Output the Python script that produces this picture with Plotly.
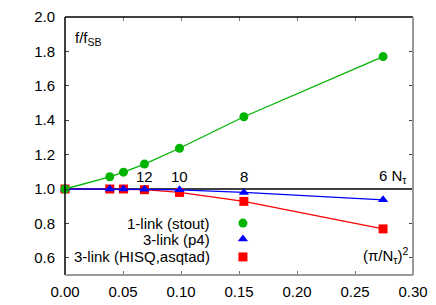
import plotly.graph_objects as go

# x = (pi/N_tau)^2 for N_tau = inf, 16, 14, 12, 10, 8, 6
x_vals = [0.0, 0.0386, 0.0504, 0.0685, 0.0987, 0.1542, 0.2742]
stout = [1.0, 1.071, 1.098, 1.145, 1.237, 1.42, 1.77]
p4 = [1.0, 1.0, 1.0, 0.998, 0.995, 0.98, 0.937]
hisq = [1.0, 1.0, 1.0, 0.996, 0.98, 0.928, 0.768]

series_names = ["1-link (stout)", "3-link (p4)", "3-link (HISQ,asqtad)"]
series_colors = ["#00b400", "#0000ff", "#ff0000"]
series_symbols = ["circle", "triangle-up", "square"]
series_sizes = [9, 9, 9]

nt_labels = ["12", "10", "8", "6 N<sub>τ</sub>"]
nt_x = [0.0685, 0.0987, 0.1542, 0.2742]

x_ticks = [0.0, 0.05, 0.10, 0.15, 0.20, 0.25, 0.30]
x_ticklabels = ["0.00", "0.05", "0.10", "0.15", "0.20", "0.25", "0.30"]
y_ticks = [0.6, 0.8, 1.0, 1.2, 1.4, 1.6, 1.8, 2.0]
y_ticklabels = ["0.6", "0.8", "1.0", "1.2", "1.4", "1.6", "1.8", "2.0"]

legend_y = [0.802, 0.709, 0.605]
legend_marker_x = 0.1534
legend_text_x = 0.1267

FONT = "Liberation Sans, Arial, sans-serif"
FS = 15
fig = go.Figure()

# reference line at 1
fig.add_shape(type="line", xref="paper", x0=0, x1=1, yref="y", y0=1.0, y1=1.0,
              line=dict(color="black", width=1.5), layer="below")

for ys, c, s, sz in zip([stout, p4, hisq][::-1], series_colors[::-1], series_symbols[::-1], series_sizes[::-1]):
    fig.add_trace(go.Scatter(x=x_vals, y=ys, mode="lines+markers",
                             line=dict(color=c, width=1.3),
                             marker=dict(color=c, symbol=s, size=sz),
                             showlegend=False, cliponaxis=False))

# manual legend
for name, c, s, sz, ly in zip(series_names, series_colors, series_symbols, series_sizes, legend_y):
    fig.add_trace(go.Scatter(x=[legend_marker_x], y=[ly], mode="markers",
                             marker=dict(color=c, symbol=s, size=sz), showlegend=False))
    fig.add_annotation(x=legend_text_x, y=ly, text=name, showarrow=False,
                       xanchor="right", yanchor="middle", font=dict(size=FS, color="black", family=FONT))

for lbl, lx in zip(nt_labels, nt_x):
    if lbl.startswith("6"):
        fig.add_annotation(x=lx, y=1.075, text=lbl, showarrow=False, xanchor="left", xshift=-6,
                           yanchor="middle", font=dict(size=FS, color="black", family=FONT))
    else:
        fig.add_annotation(x=lx, y=1.075, text=lbl, showarrow=False, xanchor="center",
                           yanchor="middle", font=dict(size=FS, color="black", family=FONT))

# axis titles inside plot
fig.add_annotation(xref="paper", yref="paper", x=0.022, y=0.915, text="f/f<sub>SB</sub>",
                   showarrow=False, xanchor="left", yanchor="middle",
                   font=dict(size=FS, color="black", family=FONT))
fig.add_annotation(xref="paper", yref="paper", x=0.995, y=0.075, text="(π/N<sub>τ</sub>)<sup>2</sup>",
                   showarrow=False, xanchor="right", yanchor="middle",
                   font=dict(size=FS, color="black", family=FONT))

# frame: top/left black, bottom/right gray
fig.add_shape(type="line", xref="paper", yref="paper", x0=0, x1=1, y0=1, y1=1, line=dict(color="black", width=1.5))
fig.add_shape(type="line", xref="paper", yref="paper", x0=0, x1=0, y0=0, y1=1, line=dict(color="black", width=1.5))
fig.add_shape(type="line", xref="paper", yref="paper", x0=0, x1=1, y0=0, y1=0, line=dict(color="#999999", width=2))
fig.add_shape(type="line", xref="paper", yref="paper", x0=1, x1=1, y0=0, y1=1, line=dict(color="#999999", width=2))

fig.update_xaxes(range=[0, 0.30], tickvals=x_ticks, ticktext=x_ticklabels, ticks="inside", ticklen=4,
                 tickcolor="#777777", mirror="ticks", showline=False, showgrid=False, zeroline=False,
                 ticklabelstandoff=6, automargin=False,
                 tickfont=dict(size=FS, color="black", family=FONT))
fig.update_yaxes(range=[0.5, 2.0], tickvals=y_ticks, ticktext=y_ticklabels, ticks="inside", ticklen=4,
                 tickcolor="#444444", mirror="ticks", showline=False, showgrid=False, zeroline=False,
                 ticklabelstandoff=9, automargin=False,
                 tickfont=dict(size=FS, color="black", family=FONT))

# page body has an 8px default margin; size the figure to fill the rest of the window
fig.update_layout(width=428, height=297, margin=dict(l=57, r=23, t=9, b=30),
                  plot_bgcolor="white", paper_bgcolor="white",
                  font=dict(family=FONT, size=FS, color="black"))

fig.write_html("out.html")
